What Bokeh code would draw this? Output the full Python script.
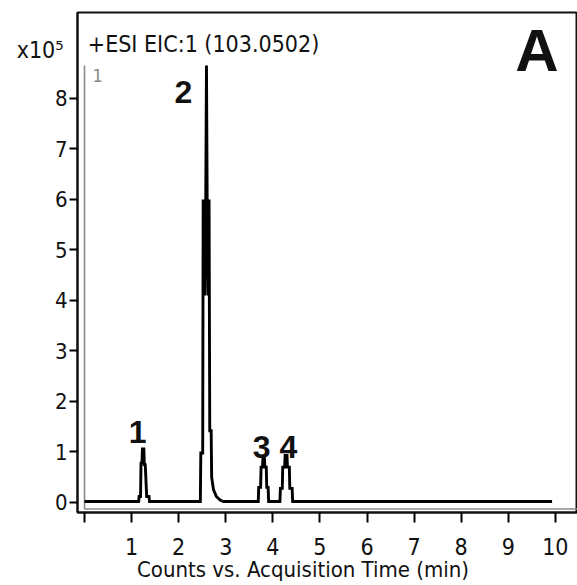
from bokeh.plotting import figure
from bokeh.models import Range1d, FixedTicker, Label, ColumnDataSource, LinearAxis
from bokeh.embed import file_html
from bokeh.resources import INLINE

# ---- data (intensity in units of 1e5 counts) ----
time_min = [0.00, 1.15, 1.16, 1.19, 1.20, 1.22, 1.23, 1.26, 1.27, 1.29, 1.32, 1.33, 1.37, 1.38,
            2.45, 2.46, 2.47, 2.51, 2.52, 2.555, 2.575, 2.59, 2.605, 2.625, 2.645, 2.66, 2.69,
            2.70, 2.74, 2.80, 2.88, 2.95,
            3.69, 3.70, 3.74, 3.75, 3.78, 3.79, 3.82, 3.83, 3.86, 3.87, 3.90, 3.91,
            4.15, 4.16, 4.20, 4.21, 4.25, 4.26, 4.30, 4.31, 4.35, 4.36, 4.41, 4.42,
            9.93]
counts = [0.02, 0.02, 0.12, 0.12, 0.78, 0.78, 1.06, 1.06, 0.75, 0.75, 0.12, 0.12, 0.12, 0.02,
          0.02, 0.02, 0.98, 0.98, 6.00, 4.10, 6.00, 8.65, 6.00, 4.10, 6.00, 1.42, 1.42,
          0.50, 0.25, 0.12, 0.05, 0.02,
          0.02, 0.30, 0.30, 0.70, 0.70, 0.90, 0.90, 0.70, 0.70, 0.30, 0.30, 0.02,
          0.02, 0.28, 0.28, 0.70, 0.70, 0.93, 0.93, 0.70, 0.70, 0.28, 0.28, 0.02,
          0.02]

peak_labels = ["1", "2", "3", "4"]
peak_label_x = [1.13, 2.10, 3.76, 4.33]
peak_label_y = [1.39, 8.12, 1.09, 1.09]

x_ticks = [0, 1, 2, 3, 4, 5, 6, 7, 8, 9, 10]
y_ticks = [0, 1, 2, 3, 4, 5, 6, 7, 8]

trace_title = "+ESI  EIC:1  (103.0502)"
panel_letter = "A"
x_label = "Counts vs. Acquisition Time (min)"
x_label_pos = 4.64
y_scale = "x10\u2075"
y_scale_pos = 8.95
trace_number = "1"
scale_top = 8.65
scale_floor = -0.13

NARROW = "DejaVu Sans Condensed"

p = figure(width=577, height=585, output_backend="svg", toolbar_location=None,
           x_range=Range1d(-0.149, 10.47), y_range=Range1d(-0.198, 9.70),
           min_border_left=77, min_border_right=0, min_border_top=12, min_border_bottom=73)
p.frame_width = 500
p.frame_height = 500
p.background_fill_color = "white"
p.border_fill_color = "white"
p.outline_line_color = "#111111"
p.outline_line_width = 2
p.xgrid.visible = False
p.ygrid.visible = False

# gray trace frame
p.segment(x0=[0, 0], y0=[scale_floor, scale_floor], x1=[0, 10.47], y1=[scale_top, scale_floor],
          line_color="#8a8a8a", line_width=1.6)

src = ColumnDataSource(dict(t=time_min, c=counts))
p.line("t", "c", source=src, line_color="black", line_width=2.9, line_join="miter")

# axes
xa = p.xaxis[0]
xa.ticker = FixedTicker(ticks=x_ticks)
xa.major_label_overrides = {0: ""}
xa.axis_line_width = 2
xa.axis_line_color = "#111111"
xa.major_tick_out = 10
xa.major_tick_in = 0
xa.major_tick_line_width = 2
xa.minor_tick_line_color = None
xa.major_label_text_font = NARROW
xa.major_label_text_font_size = "23px"
xa.major_label_text_color = "#111111"
xa.major_label_standoff = 15

# axis title as a label-only axis below (placed off-centre like the reference)
xt = LinearAxis(ticker=FixedTicker(ticks=[x_label_pos]),
                major_label_overrides={x_label_pos: x_label},
                axis_line_color=None, major_tick_line_color=None, minor_tick_line_color=None,
                major_tick_out=0, major_tick_in=0,
                major_label_text_font=NARROW, major_label_text_font_size="22px",
                major_label_text_color="#111111", major_label_standoff=-1)
p.add_layout(xt, "below")

ya = p.yaxis[0]
ya.ticker = FixedTicker(ticks=y_ticks)
ya.axis_line_width = 2
ya.axis_line_color = "#111111"
ya.major_tick_out = 8
ya.major_tick_in = 0
ya.major_tick_line_width = 2
ya.minor_tick_line_color = None
ya.major_label_text_font = NARROW
ya.major_label_text_font_size = "22px"
ya.major_label_text_color = "#111111"
ya.major_label_standoff = 2

yt = LinearAxis(ticker=FixedTicker(ticks=[y_scale_pos]),
                major_label_overrides={y_scale_pos: y_scale},
                axis_line_color=None, major_tick_line_color=None, minor_tick_line_color=None,
                major_tick_out=0, major_tick_in=0,
                major_label_text_font=NARROW, major_label_text_font_size="23px",
                major_label_text_color="#111111", major_label_standoff=-12)
p.add_layout(yt, "left")

# texts
for lab, lx, ly in zip(peak_labels, peak_label_x, peak_label_y):
    p.add_layout(Label(x=lx, y=ly, text=lab, text_font="Liberation Sans", text_font_style="bold",
                       text_font_size="32px", text_align="center", text_baseline="alphabetic",
                       text_color="#111111"))

p.add_layout(Label(x=0.07, y=9.07, text=trace_title, text_font=NARROW, text_font_size="23px",
                   text_align="left", text_baseline="alphabetic", text_color="#111111"))
p.add_layout(Label(x=9.61, y=8.95, text=panel_letter, text_font="Liberation Sans", text_font_style="bold",
                   text_font_size="60px", text_align="center", text_baseline="alphabetic",
                   text_color="#111111"))
p.add_layout(Label(x=0.17, y=8.45, text=trace_number, text_font=NARROW, text_font_size="18px",
                   text_align="left", text_baseline="alphabetic", text_color="#888888"))

open("out.html", "w").write(file_html(p, INLINE))
